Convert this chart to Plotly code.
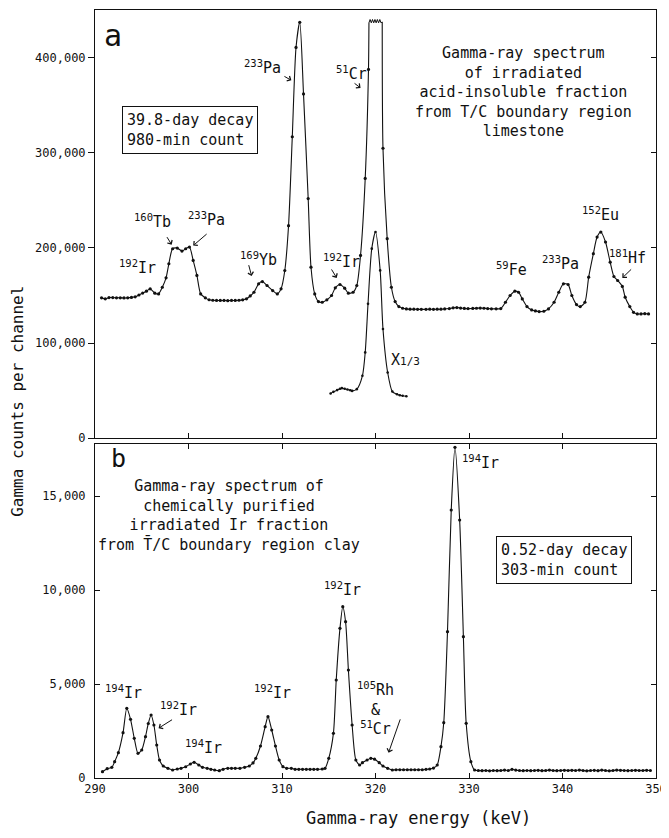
import plotly.graph_objects as go

# ---------------- data ----------------
# Panel a: acid-insoluble fraction, counts per channel
a_energy = [290.7, 291.1, 291.5, 291.9, 292.3, 292.7, 293.1, 293.5, 293.9, 294.3,
            294.7, 295.1, 295.5, 295.9, 296.4, 296.8, 297.2, 297.6, 297.9, 298.3,
            298.8, 299.3, 299.7, 300.1, 300.5, 300.9, 301.3, 301.8, 302.2, 302.6,
            303.0, 303.4, 303.8, 304.2, 304.6, 305.0, 305.4, 305.8, 306.2, 306.6,
            307.0, 307.5, 307.9, 308.4, 309.0, 309.5, 309.9, 310.3, 310.7, 311.1,
            311.5, 311.9, 312.3, 312.8, 313.1, 313.5, 313.9, 314.3, 314.8, 315.3,
            315.7, 316.2, 316.7, 317.1, 317.6, 318.0, 318.4, 318.9, 319.25,
            320.8, 321.25, 321.7, 322.1, 322.5, 322.9, 323.3, 323.7, 324.1, 324.5,
            324.9, 325.4, 325.8, 326.2, 326.6, 327.0, 327.4, 327.9, 328.3, 328.7,
            329.1, 329.5, 329.9, 330.4, 330.8, 331.2, 331.6, 332.0, 332.4, 332.9,
            333.4, 333.9, 334.4, 334.9, 335.3, 335.7, 336.2, 336.7, 337.1, 337.5,
            338.0, 338.5, 339.1, 339.6, 340.1, 340.6, 341.0, 341.5, 341.9, 342.4,
            342.8, 343.3, 343.7, 344.1, 344.6, 345.1, 345.5, 345.9, 346.4, 346.7,
            347.2, 347.6, 348.0, 348.4, 348.8, 349.2]
a_counts = [147500, 146500, 147800, 147800, 147600, 147600, 147400, 147600, 148000, 148600,
            150500, 152500, 154500, 157000, 152400, 151700, 158700, 168600, 183400, 199200,
            199900, 196800, 199200, 201000, 186900, 171100, 151700, 147500, 145500, 145000,
            144800, 144800, 144800, 144600, 144800, 144800, 145000, 145400, 146500, 149500,
            153400, 162300, 164700, 160500, 155200, 151700, 157000, 176300, 223500, 317100,
            411100, 437500, 362200, 252000, 179800, 151700, 143600, 142900, 145400, 150000,
            158100, 161600, 157700, 152400, 153400, 160500, 192200, 273200, 388000,
            305000, 209800, 158700, 143600, 138300, 136600, 135900, 135600, 135600, 135400,
            135400, 135400, 135600, 135400, 135600, 135600, 135900, 136200, 137000, 137300,
            136800, 136400, 136200, 136400, 136600, 136800, 136600, 136200, 136000, 136000,
            136200, 142900, 150000, 154500, 153400, 146400, 138300, 134800, 133800, 133100,
            133400, 135900, 142900, 153400, 162300, 161600, 150000, 140400, 138300, 142900,
            169300, 194000, 211500, 216800, 206300, 185100, 170000, 165800, 159500, 148200,
            138300, 132300, 130600, 130600, 130900, 130600]

# Off-scale top of the 51Cr peak (drawn as a broken zig-zag line)
a_clip_energy = [319.3, 319.42, 319.55, 319.68, 319.81, 319.94, 320.07, 320.2, 320.33,
                 320.46, 320.59, 320.72]
a_clip_counts = [437000, 440500, 437000, 440500, 437000, 440500, 437000, 440500, 437000,
                 440500, 437000, 438000]

# 51Cr region replotted at 1/3 scale
third_energy = [315.2, 315.5, 315.9, 316.2, 316.4, 316.7, 317.0, 317.3, 317.5, 318.0,
                318.6, 318.9, 319.2, 319.6, 320.0, 320.5, 320.8, 321.3, 321.8, 322.3,
                322.6, 322.9, 323.3]
third_counts = [46800, 48600, 50400, 51800, 52500, 51800, 51000, 50200, 49600, 51400,
                65500, 90100, 141200, 199300, 216800, 176400, 114800, 69000, 48900, 46100,
                45000, 44400, 44000]

# Panel b: chemically purified Ir fraction
b_energy = [290.8, 291.3, 291.8, 292.1, 292.5, 293.0, 293.4, 293.8, 294.2, 294.6,
            295.0, 295.4, 295.7, 296.0, 296.3, 296.6, 296.9, 297.3, 297.8, 298.3,
            298.8, 299.2, 299.7, 300.2, 300.6, 301.1, 301.5, 302.0, 302.4, 302.8,
            303.3, 303.7, 304.2, 304.6, 305.0, 305.5, 306.0, 306.5, 306.9, 307.2,
            307.7, 308.2, 308.5, 308.9, 309.3, 309.7, 310.1, 310.5, 311.0, 311.4,
            311.8, 312.2, 312.6, 313.0, 313.4, 313.8, 314.3, 314.6, 315.0, 315.5,
            315.8, 316.2, 316.5, 316.8, 317.1, 317.5, 317.9, 318.3, 318.6, 319.1,
            319.5, 319.9, 320.4, 320.8, 321.3, 321.8, 322.2, 322.6, 323.0, 323.4,
            323.8, 324.2, 324.6, 325.0, 325.4, 325.8, 326.2, 326.6, 327.0, 327.3,
            327.7, 328.1, 328.5, 329.0, 329.4, 329.7, 330.2, 330.6, 331.0, 331.4,
            331.8, 332.2, 332.6, 333.0, 333.4, 333.8, 334.2, 334.6, 335.0, 335.4,
            335.8, 336.2, 336.6, 337.0, 337.4, 337.8, 338.2, 338.6, 339.0, 339.4,
            339.8, 340.2, 340.6, 341.0, 341.4, 341.8, 342.2, 342.6, 343.0, 343.4,
            343.8, 344.2, 344.6, 345.0, 345.4, 345.8, 346.2, 346.6, 347.0, 347.4,
            347.8, 348.2, 348.6, 349.0, 349.4]
b_counts = [335, 495, 569, 867, 1346, 2410, 3708, 3123, 2112, 1314,
            1490, 2197, 2900, 3352, 2820, 1756, 958, 638, 516, 426,
            480, 516, 600, 745, 835, 692, 569, 516, 462, 426,
            390, 462, 516, 516, 516, 516, 569, 638, 800, 1047,
            1702, 2730, 3263, 2554, 1702, 958, 604, 516, 516, 462,
            462, 462, 462, 462, 462, 462, 480, 516, 1047, 2376,
            5214, 7963, 9114, 8316, 5746, 2820, 958, 692, 816, 958,
            1047, 1000, 816, 638, 516, 426, 440, 440, 440, 440,
            440, 440, 440, 440, 460, 480, 530, 692, 1667, 2942,
            7783, 14258, 17592, 13726, 7517, 2910, 867, 426, 400, 390,
            400, 380, 400, 390, 400, 420, 400, 460, 420, 400,
            390, 400, 390, 400, 410, 390, 400, 420, 400, 390,
            400, 410, 400, 410, 400, 420, 400, 380, 400, 410,
            390, 420, 400, 380, 400, 420, 410, 400, 390, 400,
            410, 400, 400, 410, 400]

a_yticks = [0, 100000, 200000, 300000, 400000]
b_yticks = [0, 5000, 10000, 15000]
x_ticks = [290, 300, 310, 320, 330, 340, 350]

# ---------------- figure ----------------
MONO = "DejaVu Sans Mono"
BLACK = "#111111"
line_style = dict(color=BLACK, width=1.1, shape="spline", smoothing=0.7)
mark_style = dict(color=BLACK, size=3.2)

fig = go.Figure()

# panel a main spectrum: left part, clipped zig-zag, right part
left_e = [e for e in a_energy if e < a_clip_energy[0]] + [a_clip_energy[0]]
left_c = [c for e, c in zip(a_energy, a_counts) if e < a_clip_energy[0]] + [a_clip_counts[0]]
right_e = [a_clip_energy[-1]] + [e for e in a_energy if e > a_clip_energy[-1]]
right_c = [a_clip_counts[-1]] + [c for e, c in zip(a_energy, a_counts) if e > a_clip_energy[-1]]

fig.add_trace(go.Scatter(x=left_e, y=left_c, mode="lines", line=line_style,
                         xaxis="x", yaxis="y", hoverinfo="skip"))
fig.add_trace(go.Scatter(x=a_clip_energy, y=a_clip_counts, mode="lines",
                         line=dict(color=BLACK, width=1), xaxis="x", yaxis="y", hoverinfo="skip"))
fig.add_trace(go.Scatter(x=right_e, y=right_c, mode="lines", line=line_style,
                         xaxis="x", yaxis="y", hoverinfo="skip"))
fig.add_trace(go.Scatter(x=a_energy, y=a_counts, mode="markers", marker=mark_style,
                         xaxis="x", yaxis="y"))
fig.add_trace(go.Scatter(x=third_energy, y=third_counts, mode="lines+markers",
                         line=line_style, marker=dict(color=BLACK, size=2.6),
                         xaxis="x", yaxis="y"))
# panel b
fig.add_trace(go.Scatter(x=b_energy, y=b_counts, mode="lines+markers",
                         line=line_style, marker=mark_style, xaxis="x2", yaxis="y2"))
# dummy trace for right-hand tick axis of panel a
fig.add_trace(go.Scatter(x=[None], y=[None], xaxis="x", yaxis="y3", showlegend=False))

TOP_DOM = [0.4427, 1.0]
BOT_DOM = [0.0, 0.4349]
A_MAX = 450500
B_MAX = 17770

tickfont = dict(family=MONO, size=12, color=BLACK)
common_x = dict(range=[290, 350], tickvals=x_ticks, showline=True, linecolor=BLACK,
                linewidth=1, showgrid=False, zeroline=False, ticks="inside", ticklen=5,
                tickcolor=BLACK, tickfont=tickfont, ticklabeloverflow="allow")

# page body has an 8px margin, so the figure is sized/offset to compensate
fig.update_layout(
    width=661, height=822, autosize=False,
    margin=dict(l=87, r=13, t=2, b=52),
    paper_bgcolor="white", plot_bgcolor="white",
    showlegend=False,
    xaxis=dict(common_x, domain=[0, 1], anchor="y", mirror=True, showticklabels=False),
    xaxis2=dict(common_x, domain=[0, 1], anchor="y2", mirror="ticks", showticklabels=True,
                matches="x"),
    yaxis=dict(domain=TOP_DOM, anchor="x", range=[0, A_MAX], tickvals=a_yticks,
               tickformat=",d", showline=True, mirror=True, linecolor=BLACK, linewidth=1,
               showgrid=False, zeroline=False, ticks="outside", ticklen=6, tickcolor=BLACK,
               tickfont=tickfont),
    yaxis3=dict(overlaying="y", side="right", anchor="x", range=[0, A_MAX],
                tickvals=a_yticks, showticklabels=False, ticks="inside", ticklen=5,
                tickcolor=BLACK, showgrid=False, zeroline=False, showline=False),
    yaxis2=dict(domain=BOT_DOM, anchor="x2", range=[0, B_MAX], tickvals=b_yticks,
                tickformat=",d", showline=True, mirror="ticks", linecolor=BLACK, linewidth=1,
                showgrid=False, zeroline=False, ticks="inside", ticklen=5, tickcolor=BLACK,
                tickfont=tickfont, ticklabelstandoff=6),
)

ann = []
lab_font = dict(family=MONO, size=15, color=BLACK)


def label(text, x, y, panel="a", size=15, **kw):
    xr, yr = ("x", "y") if panel == "a" else ("x2", "y2")
    ann.append(dict(text=text, x=x, y=y, xref=xr, yref=yr, showarrow=False,
                    xanchor="center", yanchor="middle",
                    font=dict(family=MONO, size=size, color=BLACK), **kw))


def arrow(tail, head, panel="a"):
    xr, yr = ("x", "y") if panel == "a" else ("x2", "y2")
    ann.append(dict(text="", x=head[0], y=head[1], ax=tail[0], ay=tail[1],
                    xref=xr, yref=yr, axref=xr, ayref=yr, showarrow=True,
                    arrowhead=4, arrowsize=1.1, arrowwidth=1, arrowcolor=BLACK,
                    standoff=0, startstandoff=0))


# ---- panel a labels ----
label("a", 291.9, 424000, size=30)
label("<sup>233</sup>Pa", 307.9, 390500)
arrow((310.1, 381500), (311.0, 376500))
label("<sup>160</sup>Tb", 296.2, 228000)
arrow((297.6, 213000), (298.2, 203500))
label("<sup>233</sup>Pa", 301.9, 230000)
arrow((302.1, 216000), (300.5, 202500))
label("<sup>192</sup>Ir", 294.5, 180500)
label("<sup>169</sup>Yb", 307.5, 188000)
arrow((306.4, 183500), (306.75, 170500))
label("<sup>192</sup>Ir", 316.4, 186000)
arrow((315.2, 179000), (315.85, 168500))
label("<sup>51</sup>Cr", 317.4, 384500)
arrow((317.6, 374500), (318.4, 368500))
label("<sup>59</sup>Fe", 334.55, 177500)
label("<sup>233</sup>Pa", 339.8, 184500)
label("<sup>152</sup>Eu", 344.1, 235500)
label("<sup>181</sup>Hf", 347.0, 191000)
arrow((347.5, 179000), (346.4, 168500))
label('X<span style="font-size:11px">1/3</span>', 323.2, 82000)
label("Gamma-ray spectrum<br>of irradiated<br>acid-insoluble fraction<br>"
      "from T/C boundary region<br>limestone", 335.8, 364500)
ann.append(dict(text="39.8-day decay<br>980-min count", x=300.15, y=324500, xref="x",
                yref="y", showarrow=False, align="left", bordercolor=BLACK, borderwidth=1,
                borderpad=4, bgcolor="white", font=lab_font,
                xanchor="center", yanchor="middle"))

# ---- panel b labels ----
label("b", 292.5, 17000, panel="b", size=25)
label("Gamma-ray spectrum of<br>chemically purified<br>irradiated Ir fraction<br>"
      "from T\u0304/C boundary region clay", 304.3, 13950, panel="b")
ann.append(dict(text="0.52-day decay<br>303-min count", x=340.2, y=11600, xref="x2",
                yref="y2", showarrow=False, align="left", bordercolor=BLACK, borderwidth=1,
                borderpad=4, bgcolor="white", font=lab_font,
                xanchor="center", yanchor="middle"))
label("<sup>194</sup>Ir", 331.2, 16800, panel="b")
label("<sup>192</sup>Ir", 316.5, 10050, panel="b")
label("<sup>105</sup>Rh<br>&<br><sup>51</sup>Cr", 320.0, 3700, panel="b")
arrow((322.7, 3200), (321.4, 1350), panel="b")
label("<sup>194</sup>Ir", 293.05, 4600, panel="b")
label("<sup>192</sup>Ir", 298.95, 3650, panel="b")
arrow((298.4, 3150), (296.8, 2650), panel="b")
label("<sup>194</sup>Ir", 301.6, 1650, panel="b")
label("<sup>192</sup>Ir", 309.0, 4550, panel="b")

# ---- axis titles ----
ann.append(dict(text="Gamma counts per channel", x=-0.137, y=0.49, xref="paper",
                yref="paper", textangle=-90, showarrow=False,
                xanchor="center", yanchor="middle",
                font=dict(family=MONO, size=16, color=BLACK)))
ann.append(dict(text="Gamma-ray energy (keV)", x=0.576, y=-0.052, xref="paper",
                yref="paper", showarrow=False, xanchor="center", yanchor="middle",
                font=dict(family=MONO, size=17, color=BLACK)))

fig.update_layout(annotations=ann)
fig.write_html("out.html")
